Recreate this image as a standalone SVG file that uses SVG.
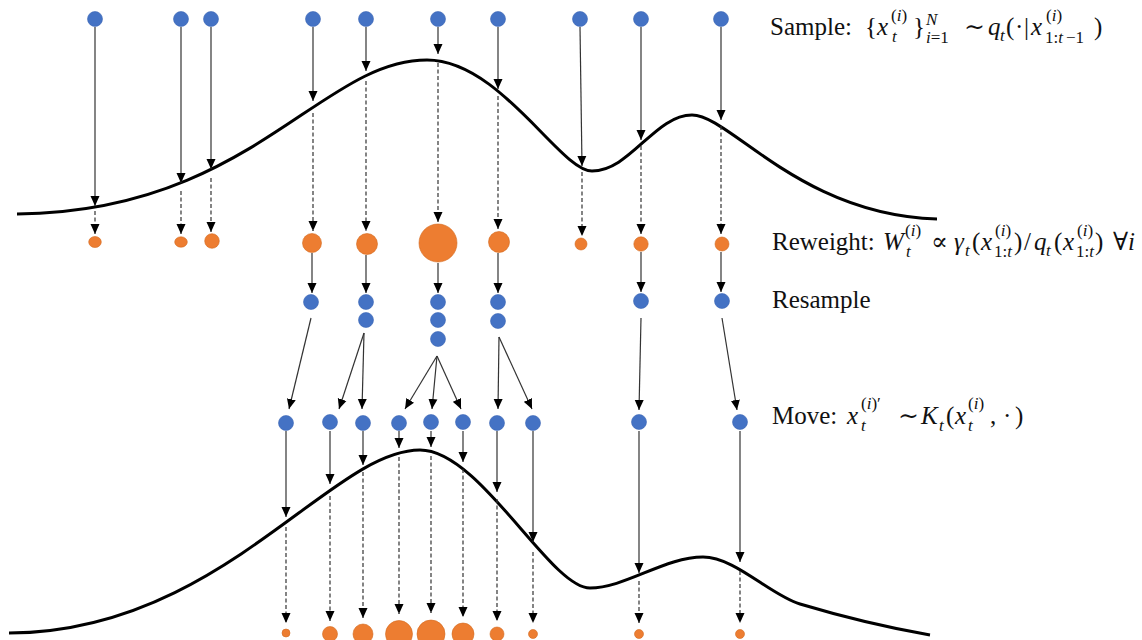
<svg xmlns="http://www.w3.org/2000/svg" width="1142" height="640" viewBox="0 0 1142 640">
<style>
.b{fill:#4472C4;stroke:#3C67B5;stroke-width:0.6}
.o{fill:#ED7D31;stroke:#D4691F;stroke-width:0.6}
.s{stroke:#333;stroke-width:1.2;fill:none;marker-end:url(#ah)}
.d{stroke:#333;stroke-width:1.2;fill:none;stroke-dasharray:4 2.5;marker-end:url(#ah)}
.c{stroke:#000;stroke-width:3;fill:none}
text{font-family:"Liberation Serif","DejaVu Serif",serif;font-size:25px;fill:#111}
.i{font-style:italic}
.sc{font-size:17px}
</style>
<defs>
<marker id="ah" markerUnits="userSpaceOnUse" markerWidth="10" markerHeight="10" viewBox="0 0 10 10" refX="10" refY="5" orient="auto">
<path d="M0,0.5 L10,5 L0,9.5 z" fill="#000"/>
</marker>
</defs>
<rect width="1142" height="640" fill="#fff"/>
<g id="curves">
<path class="c" d="M17,214 C250,212 320,60 427,60 C500,60 560,171 592,171 C630,171 655,115 692,115 C730,115 800,215 937,219"/>
<path class="c" d="M9,633 C220,632 330,450 420,450 C480,450 550,588 590,588 C625,588 665,557 703,557 C735,557 770,595 800,604 C840,616 890,628 930,635"/>
</g>
<g id="connectors">
<line class="s" x1="95" y1="27" x2="95" y2="206"/>
<line class="s" x1="181" y1="27" x2="181" y2="183"/>
<line class="s" x1="211" y1="27" x2="211" y2="169"/>
<line class="s" x1="313" y1="27" x2="313" y2="101"/>
<line class="s" x1="366" y1="27" x2="366" y2="71"/>
<line class="s" x1="438" y1="27" x2="438" y2="54"/>
<line class="s" x1="498" y1="27" x2="498" y2="89"/>
<line class="s" x1="580" y1="27" x2="582" y2="166"/>
<line class="s" x1="641" y1="27" x2="641" y2="140"/>
<line class="s" x1="721" y1="27" x2="721" y2="120"/>
<line class="d" x1="95" y1="211" x2="95" y2="234"/>
<line class="d" x1="181" y1="191" x2="181" y2="234"/>
<line class="d" x1="211" y1="178" x2="211" y2="232"/>
<line class="d" x1="313" y1="113" x2="313" y2="231"/>
<line class="d" x1="366" y1="81" x2="366" y2="231"/>
<line class="d" x1="438" y1="63" x2="438" y2="222"/>
<line class="d" x1="498" y1="96" x2="498" y2="229"/>
<line class="d" x1="582" y1="172" x2="582" y2="236"/>
<line class="d" x1="641" y1="146" x2="641" y2="234"/>
<line class="d" x1="721" y1="126" x2="721" y2="234"/>
<line class="s" x1="312" y1="253" x2="312" y2="293"/>
<line class="s" x1="366" y1="255" x2="366" y2="293"/>
<line class="s" x1="438" y1="263" x2="438" y2="293"/>
<line class="s" x1="498" y1="253" x2="498" y2="293"/>
<line class="s" x1="641" y1="252" x2="641" y2="292"/>
<line class="s" x1="721" y1="252" x2="721" y2="292"/>
<line class="s" x1="311" y1="318" x2="289" y2="409"/>
<line class="s" x1="364" y1="333" x2="339" y2="409"/>
<line class="s" x1="364" y1="333" x2="362" y2="409"/>
<line class="s" x1="437" y1="356" x2="405" y2="409"/>
<line class="s" x1="437" y1="356" x2="432" y2="409"/>
<line class="s" x1="437" y1="356" x2="461" y2="409"/>
<line class="s" x1="499" y1="337" x2="498" y2="409"/>
<line class="s" x1="499" y1="337" x2="532" y2="409"/>
<line class="s" x1="641" y1="318" x2="639" y2="410"/>
<line class="s" x1="722" y1="318" x2="737" y2="410"/>
<line class="s" x1="286" y1="431" x2="286" y2="517"/>
<line class="s" x1="330" y1="431" x2="330" y2="484"/>
<line class="s" x1="363" y1="431" x2="363" y2="465"/>
<line class="s" x1="399" y1="431" x2="399" y2="448"/>
<line class="s" x1="431" y1="431" x2="431" y2="447"/>
<line class="s" x1="463" y1="431" x2="463" y2="462"/>
<line class="s" x1="497" y1="431" x2="497" y2="492"/>
<line class="s" x1="533" y1="431" x2="533" y2="542"/>
<line class="s" x1="639" y1="431" x2="639" y2="573"/>
<line class="s" x1="740" y1="431" x2="740" y2="562"/>
<line class="d" x1="286" y1="527" x2="286" y2="623"/>
<line class="d" x1="330" y1="496" x2="330" y2="621"/>
<line class="d" x1="363" y1="472" x2="363" y2="618"/>
<line class="d" x1="399" y1="457" x2="399" y2="614"/>
<line class="d" x1="431" y1="456" x2="431" y2="613"/>
<line class="d" x1="463" y1="469" x2="463" y2="617"/>
<line class="d" x1="497" y1="499" x2="497" y2="621"/>
<line class="d" x1="533" y1="552" x2="533" y2="623"/>
<line class="d" x1="639" y1="581" x2="639" y2="623"/>
<line class="d" x1="740" y1="571" x2="740" y2="623"/>
</g>
<g id="sample-particles">
<circle class="b" cx="95" cy="19" r="7.5"/>
<circle class="b" cx="181" cy="19" r="7.5"/>
<circle class="b" cx="211" cy="19" r="7.5"/>
<circle class="b" cx="313" cy="19" r="7.5"/>
<circle class="b" cx="366" cy="19" r="7.5"/>
<circle class="b" cx="438" cy="19" r="7.5"/>
<circle class="b" cx="498" cy="19" r="7.5"/>
<circle class="b" cx="580" cy="19" r="7.5"/>
<circle class="b" cx="641" cy="19" r="7.5"/>
<circle class="b" cx="721" cy="19" r="7.5"/>
</g>
<g id="reweight-particles">
<ellipse class="o" cx="95" cy="242" rx="6.3" ry="5.5"/>
<ellipse class="o" cx="181" cy="242" rx="6.3" ry="5.2"/>
<circle class="o" cx="212" cy="241" r="7.3"/>
<circle class="o" cx="312" cy="243" r="9.5"/>
<circle class="o" cx="367" cy="244" r="10.5"/>
<circle class="o" cx="438" cy="243" r="19"/>
<circle class="o" cx="499" cy="242" r="10.5"/>
<circle class="o" cx="581" cy="244" r="6"/>
<circle class="o" cx="641" cy="244" r="7.2"/>
<circle class="o" cx="722" cy="244" r="7"/>
</g>
<g id="resample-particles">
<circle class="b" cx="311" cy="302" r="7.5"/>
<circle class="b" cx="366" cy="302" r="7.5"/>
<circle class="b" cx="366" cy="320" r="7.5"/>
<circle class="b" cx="438" cy="302" r="7.5"/>
<circle class="b" cx="438" cy="320" r="7.5"/>
<circle class="b" cx="438" cy="339" r="7.5"/>
<circle class="b" cx="498" cy="302" r="7.5"/>
<circle class="b" cx="498" cy="321" r="7.5"/>
<circle class="b" cx="641" cy="301" r="7.5"/>
<circle class="b" cx="722" cy="301" r="7.5"/>
</g>
<g id="move-particles">
<circle class="b" cx="286" cy="423" r="7.5"/>
<circle class="b" cx="330" cy="422" r="7.5"/>
<circle class="b" cx="363" cy="423" r="7.5"/>
<circle class="b" cx="399" cy="423" r="7.5"/>
<circle class="b" cx="431" cy="422" r="7.5"/>
<circle class="b" cx="463" cy="422" r="7.5"/>
<circle class="b" cx="497" cy="423" r="7.5"/>
<circle class="b" cx="533" cy="423" r="7.5"/>
<circle class="b" cx="639" cy="422" r="7.5"/>
<circle class="b" cx="740" cy="422" r="7.5"/>
</g>
<g id="final-particles">
<circle class="o" cx="286" cy="633" r="4"/>
<circle class="o" cx="330" cy="634" r="7.5"/>
<circle class="o" cx="363" cy="634" r="10"/>
<circle class="o" cx="399" cy="634" r="13.5"/>
<circle class="o" cx="431" cy="634" r="14"/>
<circle class="o" cx="463" cy="634" r="11"/>
<circle class="o" cx="497" cy="634" r="7"/>
<circle class="o" cx="533" cy="634" r="4.5"/>
<circle class="o" cx="639" cy="634" r="4.5"/>
<circle class="o" cx="740" cy="634" r="4.5"/>
</g>
<g id="label-sample">
<text x="770" y="35">Sample:</text>
<text x="865" y="35">{</text>
<text x="877" y="35" class="i">x</text>
<text x="891" y="21" class="sc">(<tspan class="i">i</tspan>)</text>
<text x="892" y="42" class="sc i">t</text>
<text x="913" y="35">}</text>
<text x="926" y="25" class="sc i">N</text>
<text x="926" y="43" class="sc"><tspan class="i">i</tspan>=1</text>
<text x="964" y="35">∼</text>
<text x="988" y="35" class="i">q</text>
<text x="1000" y="41" class="sc i">t</text>
<text x="1006" y="35">(</text>
<text x="1015" y="35">·</text>
<text x="1024" y="35">|</text>
<text x="1031" y="35" class="i">x</text>
<text x="1046" y="21" class="sc">(<tspan class="i">i</tspan>)</text>
<text x="1045" y="43" class="sc">1:<tspan class="i">t</tspan></text>
<text x="1066" y="43" class="sc">−1</text>
<text x="1094" y="35">)</text>
</g>
<g id="label-reweight">
<text x="772" y="250">Reweight:</text>
<text x="883" y="250" class="i">W</text>
<text x="905" y="236" class="sc">(<tspan class="i">i</tspan>)</text>
<text x="906" y="257" class="sc i">t</text>
<text x="931" y="250">∝</text>
<text x="954" y="250" class="i">γ</text>
<text x="965" y="256" class="sc i">t</text>
<text x="972" y="250">(</text>
<text x="981" y="250" class="i">x</text>
<text x="995" y="236" class="sc">(<tspan class="i">i</tspan>)</text>
<text x="994" y="257" class="sc">1:<tspan class="i">t</tspan></text>
<text x="1014" y="250">)</text>
<text x="1024" y="250">/</text>
<text x="1034" y="250" class="i">q</text>
<text x="1046" y="256" class="sc i">t</text>
<text x="1054" y="250">(</text>
<text x="1063" y="250" class="i">x</text>
<text x="1077" y="236" class="sc">(<tspan class="i">i</tspan>)</text>
<text x="1076" y="257" class="sc">1:<tspan class="i">t</tspan></text>
<text x="1095" y="250">)</text>
<text x="1113" y="250">∀<tspan class="i">i</tspan></text>
</g>
<g id="label-resample">
<text x="772" y="308">Resample</text>
</g>
<g id="label-move">
<text x="772" y="424">Move:</text>
<text x="847" y="424" class="i">x</text>
<text x="861" y="409" class="sc">(<tspan class="i">i</tspan>)′</text>
<text x="861" y="431" class="sc i">t</text>
<text x="898" y="424">∼</text>
<text x="921" y="424" class="i">K</text>
<text x="939" y="431" class="sc i">t</text>
<text x="946" y="424">(</text>
<text x="955" y="424" class="i">x</text>
<text x="968" y="409" class="sc">(<tspan class="i">i</tspan>)</text>
<text x="968" y="431" class="sc i">t</text>
<text x="990" y="424">,</text>
<text x="1003" y="424">·</text>
<text x="1015" y="424">)</text>
</g>
</svg>
